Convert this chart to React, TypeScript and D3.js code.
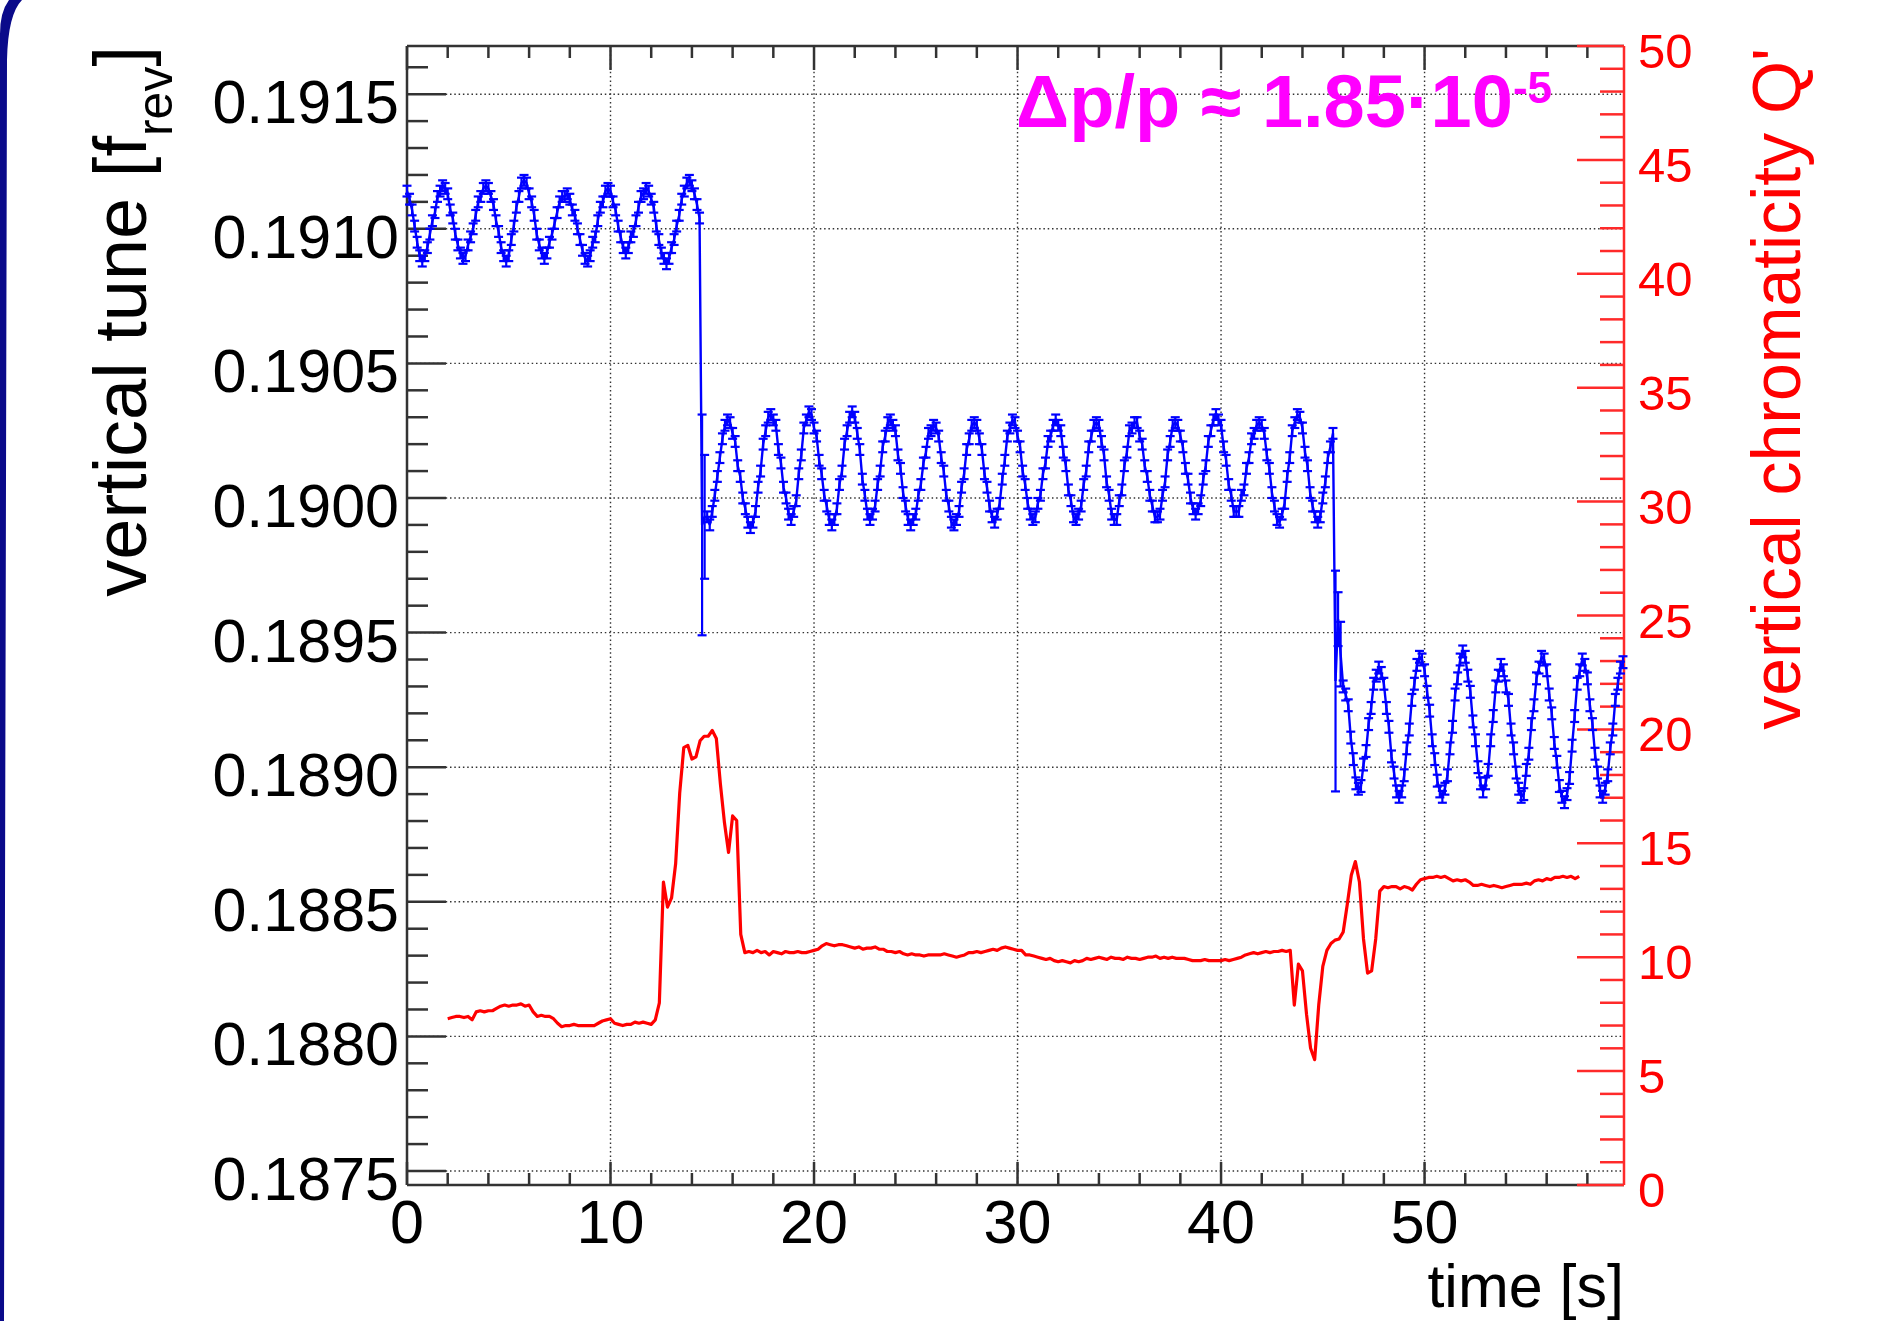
import React from "react";
import * as d3 from "d3";

// ---------------- DATA ----------------
// axis ranges
const timeDomain = [0, 59.8];
const tuneDomain = [0.187448, 0.191679];
const chromDomain = [0, 50];

const timeMajorTicks = [0, 10, 20, 30, 40, 50];
const timeTickLabels = ["0", "10", "20", "30", "40", "50"];
const tuneMajorTicks = [0.1875, 0.188, 0.1885, 0.189, 0.1895, 0.19, 0.1905, 0.191, 0.1915];
const tuneTickLabels = ["0.1875", "0.1880", "0.1885", "0.1890", "0.1895", "0.1900", "0.1905", "0.1910", "0.1915"];
const chromMajorTicks = [0, 5, 10, 15, 20, 25, 30, 35, 40, 45, 50];
const chromTickLabels = ["0", "5", "10", "15", "20", "25", "30", "35", "40", "45", "50"];

// vertical tune (units of 1e-5 f_rev), sampled every 0.125 s
const tuneStep = 0.125;
const tuneSeg1Start = 0.0;
const tuneSeg1Err = 2.0;
const tuneSeg1 = [
  19114, 19111, 19107, 19101, 19095, 19090, 19088,
  19090, 19093, 19098, 19103, 19106, 19112, 19114, 19116,
  19115, 19113, 19107, 19104, 19098, 19094, 19091, 19089,
  19090, 19094, 19097, 19100, 19105, 19110, 19112, 19115, 19116,
  19115, 19112, 19109, 19103, 19099, 19093, 19090, 19088,
  19090, 19096, 19101, 19108, 19112, 19117, 19118,
  19117, 19113, 19110, 19105, 19098, 19094, 19091, 19089,
  19091, 19095, 19098, 19102, 19106, 19110, 19112, 19112,
  19113, 19111, 19107, 19105, 19100, 19096, 19092, 19089, 19088,
  19090, 19095, 19097, 19103, 19108, 19110, 19114, 19115,
  19114, 19110, 19107, 19101, 19097, 19093, 19091,
  19093, 19097, 19099, 19103, 19108, 19112, 19113, 19115,
  19114, 19111, 19108, 19101, 19096, 19091, 19089, 19087,
  19089, 19093, 19096, 19101, 19105, 19111, 19114, 19117, 19118,
  19116, 19113, 19109, 19104,
];
const tuneJump1Times = [14.5, 14.625];
const tuneJump1 = [18990, 18993];
const tuneJump1Err = [41, 23];

const tuneSeg2Start = 14.75;
const tuneSeg2Err = 2.0;
const tuneSeg2 = [
  18993, 18990, 18995, 19001, 19008, 19015, 19022, 19027, 19029,
  19028, 19024, 19021, 19012, 19008, 19000, 18996, 18991, 18989,
  18991, 18995, 19004, 19010, 19020, 19025, 19030, 19031,
  19029, 19027, 19018, 19013, 19004, 19000, 18994, 18992,
  18995, 18999, 19009, 19016, 19026, 19029, 19032,
  19031, 19026, 19023, 19014, 19009, 19001, 18997, 18992, 18990,
  18992, 18996, 19005, 19010, 19020, 19025, 19030, 19032,
  19030, 19024, 19018, 19007, 19001, 18994, 18992,
  18994, 18997, 19005, 19010, 19019, 19023, 19028, 19029,
  19027, 19025, 19016, 19011, 19002, 18997, 18992, 18990,
  18992, 18994, 19001, 19005, 19013, 19017, 19024, 19025, 19027,
  19026, 19023, 19015, 19010, 19001, 18997, 18991, 18990,
  18992, 18995, 19004, 19009, 19018, 19022, 19027, 19028,
  19027, 19022, 19018, 19009, 19004, 18997, 18993, 18991,
  18994, 18998, 19007, 19014, 19023, 19026, 19029,
  19028, 19023, 19019, 19010, 19005, 18998, 18994, 18992,
  18993, 18998, 19001, 19009, 19013, 19021, 19023, 19027, 19029,
  19027, 19025, 19017, 19012, 19003, 18999, 18993, 18992,
  18994, 18997, 19005, 19010, 19019, 19023, 19027, 19028,
  19027, 19021, 19016, 19006, 19001, 18994, 18992,
  18992, 18999, 19003, 19012, 19017, 19025, 19026, 19028,
  19028, 19023, 19020, 19012, 19008, 19001, 18997, 18993, 18993,
  18994, 19001, 19006, 19016, 19021, 19027, 19028,
  19027, 19023, 19019, 19011, 19007, 19000, 18996, 18994,
  18996, 18999, 19007, 19012, 19021, 19025, 19029, 19031,
  19029, 19027, 19019, 19014, 19005, 19001, 18995, 18995,
  18995, 19001, 19003, 19011, 19015, 19022, 19024, 19027, 19028,
  19027, 19024, 19016, 19011, 19002, 18997, 18992, 18991,
  18994, 18998, 19008, 19015, 19025, 19028, 19031,
  19030, 19026, 19017, 19012, 19002, 18997, 18993, 18991,
  18993, 19000, 19006, 19015, 19019, 19024,
];
const tuneJump2Times = [45.625, 45.75, 45.875];
const tuneJump2 = [18932, 18955, 18942];
const tuneJump2Err = [41, 10, 12];

const tuneSeg3Start = 46.0;
const tuneSeg3Err = 2.2;
const tuneSeg3 = [
  18930, 18927, 18923, 18911, 18903, 18894, 18892,
  18893, 18901, 18906, 18916, 18922, 18931, 18934, 18937,
  18935, 18931, 18922, 18915, 18904, 18898, 18891, 18889,
  18891, 18897, 18907, 18914, 18925, 18931, 18938, 18941,
  18940, 18936, 18928, 18921, 18910, 18903, 18895, 18891, 18889,
  18892, 18897, 18907, 18915, 18927, 18933, 18940, 18943,
  18941, 18934, 18928, 18917, 18910, 18900, 18894, 18891,
  18894, 18899, 18910, 18919, 18930, 18934, 18938,
  18936, 18930, 18925, 18914, 18907, 18898, 18892, 18889,
  18890, 18899, 18905, 18916, 18923, 18933, 18937, 18941,
  18940, 18936, 18927, 18920, 18909, 18902, 18893, 18889, 18887,
  18890, 18896, 18908, 18919, 18931, 18936, 18940,
  18938, 18933, 18923, 18916, 18905, 18898, 18891, 18889,
  18892, 18897, 18907, 18914, 18925, 18931, 18937, 18939,
];

// vertical chromaticity Q', sampled every 0.2 s from t = 2.0 s
const chromStart = 2.0;
const chromStep = 0.2;
const chromaticity = [
  7.3, 7.35, 7.4, 7.4, 7.35, 7.4, 7.25, 7.6, 7.65, 7.6,
  7.65, 7.65, 7.75, 7.85, 7.9, 7.85, 7.9, 7.9, 7.95, 7.85,
  7.9, 7.6, 7.4, 7.45, 7.4, 7.4, 7.3, 7.1, 6.95, 7.0,
  7.0, 7.05, 7.0, 7.0, 7.0, 7.0, 7.0, 7.1, 7.2, 7.25,
  7.3, 7.1, 7.05, 7.0, 7.05, 7.05, 7.15, 7.1, 7.15, 7.1,
  7.05, 7.25, 8.0, 13.3, 12.2, 12.6, 14.1, 17.2, 19.2, 19.3,
  18.7, 18.8, 19.5, 19.7, 19.7, 19.95, 19.6, 17.6, 15.9, 14.6,
  16.2, 16.0, 11.0, 10.2, 10.25, 10.2, 10.3, 10.2, 10.25, 10.1,
  10.25, 10.2, 10.15, 10.25, 10.2, 10.2, 10.25, 10.2, 10.2, 10.25,
  10.3, 10.35, 10.5, 10.6, 10.55, 10.5, 10.55, 10.55, 10.5, 10.45,
  10.4, 10.45, 10.35, 10.4, 10.4, 10.45, 10.35, 10.35, 10.25, 10.25,
  10.2, 10.25, 10.15, 10.1, 10.15, 10.1, 10.1, 10.05, 10.1, 10.1,
  10.1, 10.1, 10.15, 10.1, 10.05, 10.0, 10.05, 10.1, 10.2, 10.2,
  10.25, 10.2, 10.25, 10.3, 10.35, 10.3, 10.4, 10.45, 10.4, 10.35,
  10.3, 10.3, 10.1, 10.1, 10.05, 10.0, 9.95, 9.9, 9.95, 9.85,
  9.8, 9.85, 9.8, 9.75, 9.85, 9.8, 9.85, 9.95, 9.9, 9.95,
  10.0, 9.95, 9.9, 10.0, 9.95, 9.95, 9.9, 10.0, 9.95, 9.95,
  9.9, 9.95, 10.0, 10.0, 10.05, 9.95, 10.0, 9.95, 10.0, 9.95,
  9.95, 9.95, 9.9, 9.85, 9.85, 9.85, 9.9, 9.85, 9.85, 9.85,
  9.85, 9.9, 9.85, 9.9, 9.95, 10.0, 10.1, 10.15, 10.2, 10.15,
  10.2, 10.25, 10.2, 10.25, 10.25, 10.3, 10.25, 10.3, 7.9, 9.7,
  9.4, 7.5, 6.0, 5.5, 7.9, 9.6, 10.3, 10.6, 10.75, 10.8,
  11.1, 12.3, 13.6, 14.2, 13.3, 10.8, 9.3, 9.4, 10.8, 12.9,
  13.1, 13.05, 13.1, 13.1, 13.0, 13.1, 13.05, 12.95, 13.2, 13.4,
  13.45, 13.5, 13.5, 13.55, 13.5, 13.55, 13.45, 13.35, 13.4, 13.35,
  13.4, 13.3, 13.15, 13.15, 13.2, 13.15, 13.1, 13.15, 13.1, 13.05,
  13.1, 13.15, 13.2, 13.2, 13.2, 13.25, 13.2, 13.35, 13.4, 13.35,
  13.45, 13.4, 13.5, 13.5, 13.55, 13.5, 13.55, 13.45, 13.55,
];

const annotationText = "Δp/p ≈ 1.85·10";
const annotationExp = "-5";

// ---------------- LAYOUT ----------------
const W = 1890;
const H = 1321;
const FR = { left: 407, right: 1624, top: 46, bottom: 1185 };
const FONT = "'Liberation Sans', Arial, Helvetica, sans-serif";
const AXIS = "#333";
const RED = "#ff0000";
const RED_AXIS = "#ff2a2a";
const BLUE = "#0000ff";

type P = { t: number; v: number; e: number };

export default function App() {
  const x = d3.scaleLinear().domain(timeDomain).range([FR.left, FR.right]);
  const yT = d3.scaleLinear().domain(tuneDomain).range([FR.bottom, FR.top]);
  const yC = d3.scaleLinear().domain(chromDomain).range([FR.bottom, FR.top]);

  const pts: P[] = [
    ...tuneSeg1.map((v, i) => ({ t: tuneSeg1Start + i * tuneStep, v: v * 1e-5, e: tuneSeg1Err * 1e-5 })),
    ...tuneJump1.map((v, i) => ({ t: tuneJump1Times[i], v: v * 1e-5, e: tuneJump1Err[i] * 1e-5 })),
    ...tuneSeg2.map((v, i) => ({ t: tuneSeg2Start + i * tuneStep, v: v * 1e-5, e: tuneSeg2Err * 1e-5 })),
    ...tuneJump2.map((v, i) => ({ t: tuneJump2Times[i], v: v * 1e-5, e: tuneJump2Err[i] * 1e-5 })),
    ...tuneSeg3.map((v, i) => ({ t: tuneSeg3Start + i * tuneStep, v: v * 1e-5, e: tuneSeg3Err * 1e-5 })),
  ];

  const blueLine = d3.line<P>().x((d) => x(d.t)).y((d) => yT(d.v))(pts) || "";
  const redLine =
    d3
      .line<number>()
      .x((_, i) => x(chromStart + i * chromStep))
      .y((d) => yC(d))(chromaticity) || "";

  // ticks
  const timeMinor = d3.range(0, 60, 2).filter((t) => t <= timeDomain[1] && t % 10 !== 0);
  const tuneMinor = d3
    .range(18750, 19170, 1)
    .filter((k) => k % 10 === 0 && k % 50 !== 0)
    .map((k) => k / 100000)
    .filter((v) => v >= tuneDomain[0] && v <= tuneDomain[1]);
  const chromMinor = d3.range(0, 51, 1).filter((c) => c % 5 !== 0);

  const capHalf = 4.5;

  return (
    <svg
      width={W}
      height={H}
      viewBox={`0 0 ${W} ${H}`}
      style={{ position: "absolute", left: 0, top: 0, background: "#fff" }}
      fontFamily={FONT}
    >
      <rect x={0} y={0} width={W} height={H} fill="#fff" />
      {/* slide border remnant */}
      <path d="M0,1321 L4,1321 L7,60 Q8,14 22,0 L9,0 Q0,12 0,34 Z" fill="#0a0a8a" />

      {/* grid */}
      <g stroke="#333" strokeWidth={1.4} strokeDasharray="1.5 2.8">
        {timeMajorTicks
          .filter((t) => t > 0)
          .map((t) => (
            <line key={"gx" + t} x1={x(t)} x2={x(t)} y1={FR.top} y2={FR.bottom} />
          ))}
        {tuneMajorTicks.map((v) => (
          <line key={"gy" + v} x1={FR.left} x2={FR.right} y1={yT(v)} y2={yT(v)} />
        ))}
      </g>

      {/* frame */}
      <g stroke={AXIS} strokeWidth={2.5} fill="none">
        <line x1={FR.left} x2={FR.right} y1={FR.top} y2={FR.top} />
        <line x1={FR.left} x2={FR.right} y1={FR.bottom} y2={FR.bottom} />
        <line x1={FR.left} x2={FR.left} y1={FR.top} y2={FR.bottom} />
        {/* x ticks bottom and top */}
        {timeMajorTicks.map((t) => (
          <g key={"xt" + t}>
            <line x1={x(t)} x2={x(t)} y1={FR.bottom} y2={FR.bottom - 23} />
            <line x1={x(t)} x2={x(t)} y1={FR.top} y2={FR.top + 24} />
          </g>
        ))}
        {timeMinor.map((t) => (
          <g key={"xm" + t}>
            <line x1={x(t)} x2={x(t)} y1={FR.bottom} y2={FR.bottom - 12} />
            <line x1={x(t)} x2={x(t)} y1={FR.top} y2={FR.top + 12} />
          </g>
        ))}
        {/* left y ticks */}
        {tuneMajorTicks.map((v) => (
          <line key={"yt" + v} x1={FR.left} x2={FR.left + 39} y1={yT(v)} y2={yT(v)} />
        ))}
        {tuneMinor.map((v) => (
          <line key={"ym" + v} x1={FR.left} x2={FR.left + 21} y1={yT(v)} y2={yT(v)} />
        ))}
      </g>

      {/* red right axis */}
      <g stroke={RED_AXIS} strokeWidth={2.5}>
        <line x1={FR.right} x2={FR.right} y1={yC(0)} y2={yC(50)} />
        {chromMajorTicks.map((c) => (
          <line key={"ct" + c} x1={FR.right} x2={FR.right - 47} y1={yC(c)} y2={yC(c)} />
        ))}
        {chromMinor.map((c) => (
          <line key={"cm" + c} x1={FR.right} x2={FR.right - 24} y1={yC(c)} y2={yC(c)} />
        ))}
      </g>

      {/* red chromaticity curve */}
      <path d={redLine} fill="none" stroke={RED} strokeWidth={3.2} strokeLinejoin="round" />

      {/* blue tune graph with error bars */}
      <path d={blueLine} fill="none" stroke={BLUE} strokeWidth={2.4} />
      <g stroke={BLUE} strokeWidth={2.2}>
        {pts.map((d, i) => {
          const px = x(d.t);
          const y1 = yT(d.v + d.e);
          const y2 = yT(d.v - d.e);
          return (
            <g key={"e" + i}>
              <line x1={px} x2={px} y1={y1} y2={y2} />
              <line x1={px - capHalf} x2={px + capHalf} y1={y1} y2={y1} />
              <line x1={px - capHalf} x2={px + capHalf} y1={y2} y2={y2} />
            </g>
          );
        })}
      </g>

      {/* tick labels */}
      <g fontSize={61} fill="#000">
        {tuneMajorTicks.map((v, i) => (
          <text key={"yl" + v} x={399} y={yT(v) + 29} textAnchor="end">
            {tuneTickLabels[i]}
          </text>
        ))}
        {timeMajorTicks.map((t, i) => (
          <text key={"xl" + t} x={x(t)} y={1243} textAnchor="middle">
            {timeTickLabels[i]}
          </text>
        ))}
      </g>
      <g fontSize={49} fill={RED}>
        {chromMajorTicks.map((c, i) => (
          <text key={"cl" + c} x={1638} y={yC(c) + 22} textAnchor="start">
            {chromTickLabels[i]}
          </text>
        ))}
      </g>

      {/* axis titles */}
      <text x={FR.right} y={1307} fontSize={61} textAnchor="end" fill="#000">
        time [s]
      </text>
      <text transform="translate(146,46) rotate(-90)" fontSize={74} textAnchor="end" fill="#000">
        vertical tune [f
        <tspan fontSize={50} dy={26}>
          rev
        </tspan>
        <tspan fontSize={74} dy={-26}>
          ]
        </tspan>
      </text>
      <text transform="translate(1800,48) rotate(-90)" fontSize={68} textAnchor="end" fill={RED}>
        vertical chromaticity Q'
      </text>

      {/* annotation */}
      <text x={1016} y={127} fontSize={74} fontWeight="bold" fill="#ff00ff">
        {annotationText}
        <tspan fontSize={44} dy={-24}>
          {annotationExp}
        </tspan>
      </text>
    </svg>
  );
}
